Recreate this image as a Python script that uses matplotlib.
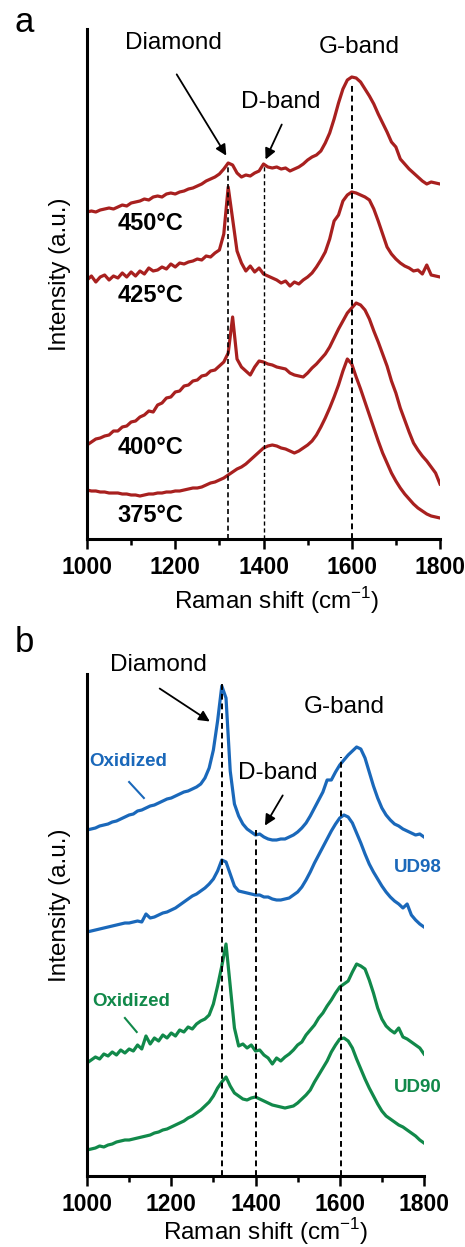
import numpy as np
import matplotlib
matplotlib.use('Agg')
import matplotlib.pyplot as plt

plt.rcParams['font.family'] = ['Liberation Sans', 'DejaVu Sans']
plt.rcParams['mathtext.fontset'] = 'custom'
plt.rcParams['mathtext.rm'] = 'Liberation Sans'

# Raman shift grid (cm-1)
shift = np.arange(1000, 1801, 10)

# panel a: annealing temperature series (a.u., offset stacked)
t450 = [327, 328, 327, 329, 330, 331, 330, 332, 334, 333, 336, 337, 338, 340, 339, 342, 343, 342, 345, 346,
        345, 347, 348, 350, 351, 353, 355, 358, 360, 362, 365, 370, 376, 374, 366, 362, 364, 363, 366, 368,
        375, 372, 371, 372, 370, 371, 368, 370, 372, 375, 379, 382, 384, 388, 396, 406, 420, 436, 450, 459,
        462, 461, 457, 450, 443, 435, 425, 416, 407, 397, 392, 380, 375, 370, 366, 362, 358, 355, 357, 356, 355]
t425 = [259, 263, 257, 262, 264, 259, 263, 261, 266, 262, 267, 263, 268, 265, 271, 268, 269, 272, 270, 275,
        272, 276, 275, 277, 278, 280, 279, 283, 282, 286, 289, 305, 352, 320, 288, 276, 268, 273, 267, 271,
        265, 263, 261, 259, 256, 258, 253, 257, 255, 259, 262, 266, 272, 279, 287, 300, 318, 324, 338, 344,
        347, 346, 344, 342, 339, 330, 318, 305, 292, 285, 280, 276, 273, 271, 268, 269, 265, 274, 264, 263, 262]
t400 = [94, 97, 100, 101, 103, 104, 108, 108, 112, 113, 117, 118, 122, 124, 128, 127, 134, 136, 141, 142,
        147, 148, 153, 154, 158, 159, 163, 164, 168, 169, 173, 177, 186, 222, 180, 172, 168, 164, 172, 178,
        177, 175, 174, 172, 171, 170, 166, 164, 163, 162, 166, 171, 175, 180, 185, 192, 201, 210, 218, 226,
        231, 236, 234, 229, 220, 208, 197, 185, 173, 158, 146, 131, 119, 107, 96, 89, 83, 78, 72, 66, 55]
t375 = [49, 48, 48, 47, 47, 46, 46, 46, 45, 45, 44, 44, 43, 44, 45, 45, 46, 46, 47, 47,
        48, 48, 49, 50, 51, 51, 52, 54, 56, 57, 59, 61, 64, 67, 70, 72, 75, 79, 83, 87,
        91, 93, 94, 93, 91, 90, 88, 86, 88, 91, 94, 98, 104, 112, 121, 131, 142, 154, 168, 180,
        175, 162, 150, 137, 124, 111, 98, 86, 76, 66, 58, 51, 45, 40, 35, 31, 28, 25, 23, 22, 21]
temps = ['450°C', '425°C', '400°C', '375°C']
temp_label_y = [316, 244, 92, 24]

# panel b: UD98 and UD90, pristine and oxidized
ud98_ox = [346, 347, 348, 350, 351, 352, 354, 355, 357, 359, 361, 362, 365, 366, 368, 370, 371, 373, 375, 377,
           378, 380, 382, 384, 385, 387, 389, 392, 398, 408, 426, 455, 490, 478, 405, 372, 360, 352, 347, 344,
           341, 342, 339, 337, 336, 336, 337, 337, 339, 341, 344, 348, 353, 360, 368, 376, 384, 396, 396, 404,
           411, 416, 421, 425, 429, 427, 418, 404, 390, 378, 368, 361, 356, 352, 350, 347, 345, 343, 341, 342, 339]
ud98 = [244, 245, 246, 247, 248, 249, 250, 251, 252, 253, 253, 254, 255, 254, 262, 258, 259, 261, 263, 264,
        266, 268, 271, 274, 277, 280, 282, 285, 288, 292, 297, 305, 316, 314, 302, 290, 285, 284, 283, 282,
        281, 281, 279, 279, 277, 276, 276, 277, 278, 281, 284, 289, 296, 304, 313, 321, 329, 337, 345, 352,
        358, 361, 359, 353, 343, 333, 322, 312, 304, 297, 290, 284, 279, 275, 272, 268, 272, 261, 256, 252, 249]
ud90_ox = [113, 116, 119, 117, 122, 120, 124, 121, 126, 123, 127, 125, 131, 127, 140, 132, 138, 135, 141, 138,
           143, 140, 146, 144, 149, 147, 152, 155, 157, 161, 172, 190, 210, 232, 190, 148, 130, 132, 128, 131,
           125, 126, 121, 118, 112, 118, 115, 119, 122, 126, 131, 134, 141, 146, 151, 158, 163, 170, 176, 183,
           189, 192, 195, 204, 212, 210, 207, 196, 183, 168, 157, 150, 146, 143, 148, 139, 137, 134, 131, 128, 122]
ud90 = [26, 27, 28, 30, 29, 31, 32, 34, 35, 36, 36, 37, 38, 39, 40, 41, 43, 44, 46, 47,
        49, 51, 53, 55, 58, 60, 63, 66, 70, 74, 80, 88, 94, 99, 90, 83, 80, 77, 76, 78,
        79, 77, 75, 73, 71, 70, 69, 68, 69, 70, 73, 77, 81, 86, 94, 101, 108, 115, 124, 131,
        137, 138, 135, 128, 117, 107, 97, 88, 80, 72, 65, 60, 57, 54, 51, 49, 46, 43, 40, 36, 33]

red = '#A8201F'
blue = '#1A68BA'
green = '#11894A'

fig = plt.figure(figsize=(4.65, 12.47), dpi=100)
axa = fig.add_axes([87/465, 1-539/1247, 353/465, 510/1247])
axb = fig.add_axes([87/465, 1-1176/1247, 337/465, 502/1247])


def style(ax, top):
    ax.set_xlim(1000, 1800)
    ax.set_ylim(0, top)
    for s in ['top', 'right']:
        ax.spines[s].set_visible(False)
    ax.spines['left'].set_linewidth(2.2)
    ax.spines['bottom'].set_linewidth(2.2)
    ax.set_yticks([])
    ax.set_xticks([1000, 1200, 1400, 1600, 1800])
    ax.set_xticks(np.arange(1100, 1800, 200), minor=True)
    ax.tick_params(axis='x', which='major', direction='out', length=7, width=1.8, labelsize=16.5, pad=5)
    ax.tick_params(axis='x', which='minor', direction='out', length=4, width=1.8)
    for lab in ax.get_xticklabels():
        lab.set_fontweight('bold')
    ax.set_xlabel(r'Raman shift (cm$^{\mathregular{-1}}$)', fontsize=17.5, va='center')
    ax.set_ylabel('Intensity (a.u.)', fontsize=17.5, va='center')


style(axa, 510)
style(axb, 502)
axa.xaxis.set_label_coords(0.537, -0.12)
axa.yaxis.set_label_coords(-0.077, 0.52)
axb.xaxis.set_label_coords(0.53, -0.11)
axb.yaxis.set_label_coords(-0.08, 0.54)

# panel a
for y in [t450, t425, t400, t375]:
    axa.plot(shift, y, color=red, lw=2.3)
axa.vlines(1320, 0, 372, colors='k', linestyles=(0, (3, 2)), lw=1.2)
axa.vlines(1400, 0, 373, colors='k', linestyles=(0, (3, 2)), lw=1.0)
axa.vlines(1600, 0, 456, colors='k', linestyles=(0, (3, 2)), lw=1.4)
for lab, yy in zip(temps, temp_label_y):
    axa.text(1143, yy, lab, ha='center', va='center', fontsize=17, fontweight='bold')
arw = dict(arrowstyle='-|>', color='k', lw=1.3, mutation_scale=16)
axa.text(1197, 496, 'Diamond', ha='center', va='center', fontsize=17.5)
axa.annotate('', xy=(1319, 381), xytext=(1200, 467), arrowprops=arw)
axa.text(1440, 437, 'D-band', ha='center', va='center', fontsize=17.5)
axa.annotate('', xy=(1402, 377), xytext=(1444, 417), arrowprops=arw)
axa.text(1617, 492, 'G-band', ha='center', va='center', fontsize=17.5)

# panel b
axb.plot(shift, ud98_ox, color=blue, lw=2.3)
axb.plot(shift, ud98, color=blue, lw=2.3)
axb.plot(shift, ud90_ox, color=green, lw=2.3)
axb.plot(shift, ud90, color=green, lw=2.3)
axb.vlines(1320, 0, 494, colors='k', linestyles=(0, (3, 2)), lw=1.4)
axb.vlines(1400, 0, 346, colors='k', linestyles=(0, (3, 2)), lw=1.4)
axb.vlines(1603, 0, 419, colors='k', linestyles=(0, (3, 2)), lw=1.4)
axb.text(1169, 511, 'Diamond', ha='center', va='center', fontsize=17.5)
axb.annotate('', xy=(1297, 453), xytext=(1167, 489), arrowprops=arw)
axb.text(1610, 469, 'G-band', ha='center', va='center', fontsize=17.5)
axb.text(1453, 403, 'D-band', ha='center', va='center', fontsize=17.5)
axb.annotate('', xy=(1419, 348), xytext=(1468, 383), arrowprops=arw)
axb.text(1097, 414, 'Oxidized', ha='center', va='center', fontsize=13.5, fontweight='bold', color=blue)
axb.plot([1100, 1135], [394, 378], color=blue, lw=1.5)
axb.text(1785, 309, 'UD98', ha='center', va='center', fontsize=13.5, fontweight='bold', color=blue, clip_on=False)
axb.text(1105, 174, 'Oxidized', ha='center', va='center', fontsize=13.5, fontweight='bold', color=green)
axb.plot([1090, 1118], [158, 144], color=green, lw=1.5)
axb.text(1785, 89, 'UD90', ha='center', va='center', fontsize=13.5, fontweight='bold', color=green, clip_on=False)

fig.text(24/465, 1-23/1247, 'a', ha='center', va='center', fontsize=25)
fig.text(24/465, 1-643/1247, 'b', ha='center', va='center', fontsize=25)

fig.savefig('out.png', dpi=100)
